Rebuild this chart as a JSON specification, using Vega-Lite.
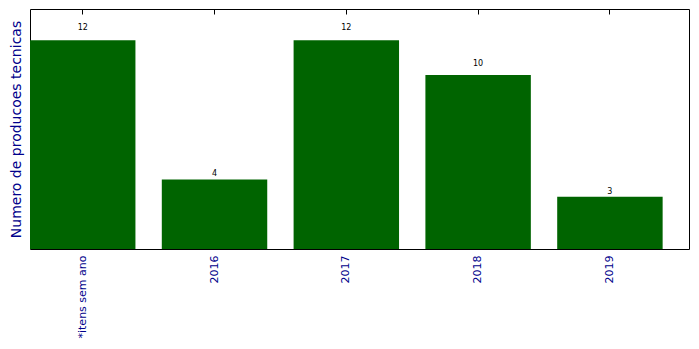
{
  "$schema": "https://vega.github.io/schema/vega-lite/v6.json",
  "width": 659,
  "height": 240,
  "autosize": "none",
  "padding": {"left": 30, "top": 9, "right": 10, "bottom": 100},
  "config": {
    "view": {"stroke": "black", "strokeWidth": 1},
    "font": "DejaVu Sans"
  },
  "data": {"values": [
    {"ano": "*itens sem ano", "n": 12},
    {"ano": "2016", "n": 4},
    {"ano": "2017", "n": 12},
    {"ano": "2018", "n": 10},
    {"ano": "2019", "n": 3}
  ]},
  "layer": [
    {
      "mark": {"type": "bar", "color": "#006400"},
      "encoding": {
        "x": {"field": "ano", "type": "nominal", "sort": null,
          "scale": {"paddingInner": 0.2, "paddingOuter": 0.1, "align": 0},
          "axis": {"orient": "bottom", "title": null, "labelAngle": -90, "labelColor": "darkblue", "labelFontSize": 11, "labelFont": "DejaVu Sans", "tickSize": -5, "tickColor": "black", "domain": false, "labelPadding": 11, "grid": false}},
        "y": {"field": "n", "type": "quantitative", "scale": {"domain": [0, 13.8], "nice": false},
          "axis": {"title": "Numero de producoes tecnicas", "titleColor": "darkblue", "titleFont": "DejaVu Sans", "titleFontSize": 14, "titleFontWeight": "normal", "labels": false, "ticks": false, "domain": false, "grid": false, "titlePadding": 7}}
      }
    },
    {
      "transform": [{"calculate": "datum.n * 1.05", "as": "pos"}],
      "mark": {"type": "text", "baseline": "alphabetic", "fontSize": 8, "color": "black"},
      "encoding": {
        "x": {"field": "ano", "type": "nominal", "sort": null,
          "axis": {"orient": "top", "title": null, "labels": false, "tickSize": -5, "tickColor": "black", "domain": false, "grid": false}},
        "y": {"field": "pos", "type": "quantitative"},
        "text": {"field": "n", "type": "quantitative"}
      }
    }
  ],
  "resolve": {"axis": {"x": "independent"}}
}
